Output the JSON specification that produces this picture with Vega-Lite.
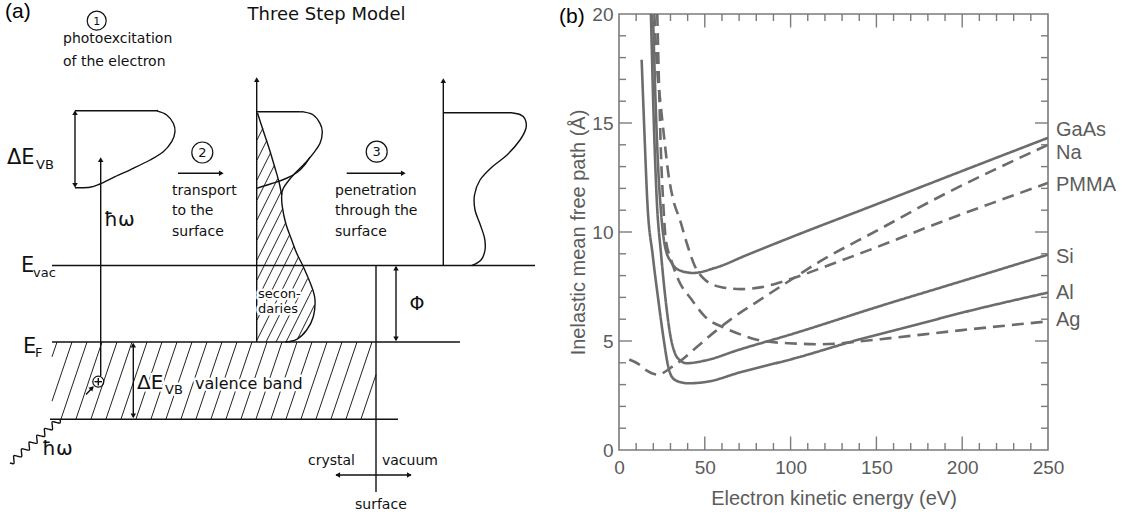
{
"$schema": "https://vega.github.io/schema/vega-lite/v6.json",
"padding": 0,
"background": "white",
"bounds": "flush",
"spacing": 159,
"config": {"font": "DejaVu Sans"},
"datasets": {
"aframe": [{"x": 0, "y": 0, "x2": 0, "y2": 518}],
"alines": [
{"id":"evac","o":0,"x":52,"y":265.5},{"id":"evac","o":1,"x":535,"y":265.5},
{"id":"ef","o":0,"x":52,"y":342},{"id":"ef","o":1,"x":460,"y":342},
{"id":"vbb","o":0,"x":50,"y":419.3},{"id":"vbb","o":1,"x":398,"y":419.3},
{"id":"surf","o":0,"x":376,"y":265.5},{"id":"surf","o":1,"x":376,"y":492},
{"id":"hw","o":0,"x":100.7,"y":160},{"id":"hw","o":1,"x":100.7,"y":376},
{"id":"d1","o":0,"x":75,"y":110.7},{"id":"d1","o":1,"x":150,"y":110.7},{"id":"d1","o":2,"x":156.7,"y":110.9},{"id":"d1","o":3,"x":166.7,"y":115},{"id":"d1","o":4,"x":173.3,"y":123.3},{"id":"d1","o":5,"x":175,"y":131.7},{"id":"d1","o":6,"x":171.7,"y":141.7},{"id":"d1","o":7,"x":163.3,"y":151.7},{"id":"d1","o":8,"x":150,"y":160},{"id":"d1","o":9,"x":133.3,"y":168.3},{"id":"d1","o":10,"x":115,"y":176.7},{"id":"d1","o":11,"x":100,"y":184},{"id":"d1","o":12,"x":90,"y":187.3},{"id":"d1","o":13,"x":75,"y":187.7},
{"id":"d1a","o":0,"x":75,"y":113},{"id":"d1a","o":1,"x":75,"y":185},
{"id":"d2a","o":0,"x":256.7,"y":80},{"id":"d2a","o":1,"x":256.7,"y":342},
{"id":"d2m","o":0,"x":256.7,"y":111.7},{"id":"d2m","o":1,"x":298,"y":111.7},{"id":"d2m","o":2,"x":303.3,"y":111.9},{"id":"d2m","o":3,"x":313.3,"y":115},{"id":"d2m","o":4,"x":320,"y":123.3},{"id":"d2m","o":5,"x":322.3,"y":131.7},{"id":"d2m","o":6,"x":320,"y":143.3},{"id":"d2m","o":7,"x":313.3,"y":153.3},{"id":"d2m","o":8,"x":305,"y":163.3},{"id":"d2m","o":9,"x":295,"y":173.3},{"id":"d2m","o":10,"x":287.7,"y":181.7},{"id":"d2m","o":11,"x":283.3,"y":188.3},{"id":"d2m","o":12,"x":281.7,"y":195},{"id":"d2m","o":13,"x":282.3,"y":206.7},{"id":"d2m","o":14,"x":285.7,"y":223.3},{"id":"d2m","o":15,"x":291.7,"y":240},{"id":"d2m","o":16,"x":296.7,"y":253.3},{"id":"d2m","o":17,"x":303.3,"y":266.7},{"id":"d2m","o":18,"x":311.7,"y":286.7},{"id":"d2m","o":19,"x":315,"y":300},{"id":"d2m","o":20,"x":313.3,"y":316.7},{"id":"d2m","o":21,"x":306.7,"y":330},{"id":"d2m","o":22,"x":296.7,"y":339.3},{"id":"d2m","o":23,"x":285,"y":342},
{"id":"d2i","o":0,"x":256.7,"y":188.3},{"id":"d2i","o":1,"x":271.7,"y":183.5},{"id":"d2i","o":2,"x":286,"y":178.5},{"id":"d2i","o":3,"x":297,"y":172.5},{"id":"d2i","o":4,"x":305,"y":164.5},{"id":"d2i","o":5,"x":310,"y":157},
{"id":"d2b","o":0,"x":257.5,"y":113},{"id":"d2b","o":1,"x":263,"y":130},{"id":"d2b","o":2,"x":269,"y":148},{"id":"d2b","o":3,"x":275,"y":168},{"id":"d2b","o":4,"x":279,"y":182},{"id":"d2b","o":5,"x":281.7,"y":195},
{"id":"d3a","o":0,"x":443.3,"y":81},{"id":"d3a","o":1,"x":443.3,"y":265.5},
{"id":"d3","o":0,"x":443.3,"y":112.7},{"id":"d3","o":1,"x":505,"y":112.7},{"id":"d3","o":2,"x":512,"y":112.9},{"id":"d3","o":3,"x":520,"y":114.5},{"id":"d3","o":4,"x":525,"y":119},{"id":"d3","o":5,"x":526,"y":128},{"id":"d3","o":6,"x":520,"y":140},{"id":"d3","o":7,"x":507,"y":155},{"id":"d3","o":8,"x":492,"y":167},{"id":"d3","o":9,"x":480,"y":180},{"id":"d3","o":10,"x":474.5,"y":195},{"id":"d3","o":11,"x":475,"y":210},{"id":"d3","o":12,"x":480,"y":224},{"id":"d3","o":13,"x":484.5,"y":238},{"id":"d3","o":14,"x":485,"y":250},{"id":"d3","o":15,"x":481,"y":260},{"id":"d3","o":16,"x":472,"y":265.5},
{"id":"ar2","o":0,"x":178,"y":173.3},{"id":"ar2","o":1,"x":222,"y":173.3},
{"id":"ar3","o":0,"x":346.7,"y":173.3},{"id":"ar3","o":1,"x":404,"y":173.3},
{"id":"phi","o":0,"x":396,"y":267},{"id":"phi","o":1,"x":396,"y":340},
{"id":"devb","o":0,"x":133.3,"y":344},{"id":"devb","o":1,"x":133.3,"y":417},
{"id":"cv","o":0,"x":336,"y":475},{"id":"cv","o":1,"x":411,"y":475},
{"id":"ha","o":0,"x":86,"y":394.5},{"id":"ha","o":1,"x":93,"y":387},
{"id":"ph","o":0,"x":94.5,"y":381.7},{"id":"ph","o":1,"x":102,"y":381.7},
{"id":"pv","o":0,"x":98.3,"y":378},{"id":"pv","o":1,"x":98.3,"y":385.5},
{"id":"wave","o":0,"x":10,"y":463},{"id":"wave","o":1,"x":13.9,"y":463.56},{"id":"wave","o":2,"x":13.85,"y":459.62},{"id":"wave","o":3,"x":13.79,"y":455.67},{"id":"wave","o":4,"x":17.69,"y":456.23},{"id":"wave","o":5,"x":21.6,"y":456.79},{"id":"wave","o":6,"x":21.54,"y":452.85},{"id":"wave","o":7,"x":21.48,"y":448.91},{"id":"wave","o":8,"x":25.38,"y":449.46},{"id":"wave","o":9,"x":29.29,"y":450.02},{"id":"wave","o":10,"x":29.23,"y":446.08},{"id":"wave","o":11,"x":29.17,"y":442.14},{"id":"wave","o":12,"x":33.08,"y":442.7},{"id":"wave","o":13,"x":36.98,"y":443.25},{"id":"wave","o":14,"x":36.92,"y":439.31},{"id":"wave","o":15,"x":36.87,"y":435.37},{"id":"wave","o":16,"x":40.77,"y":435.93},{"id":"wave","o":17,"x":44.67,"y":436.48},{"id":"wave","o":18,"x":44.62,"y":432.54},{"id":"wave","o":19,"x":44.56,"y":428.6},{"id":"wave","o":20,"x":48.46,"y":429.16},{"id":"wave","o":21,"x":52.36,"y":429.72},{"id":"wave","o":22,"x":52.31,"y":425.77},{"id":"wave","o":23,"x":52.25,"y":421.83},{"id":"wave","o":24,"x":56.15,"y":422.39},{"id":"wave","o":25,"x":60.06,"y":422.95},{"id":"wave","o":26,"x":60,"y":419}
],
"hatch": [
{"x":52,"y":356.8,"x2":57,"y2":342},{"x":52,"y":401.2,"x2":72,"y2":342},{"x":61,"y":419,"x2":87,"y2":342},{"x":76,"y":419,"x2":102,"y2":342},{"x":91,"y":419,"x2":117,"y2":342},{"x":106,"y":419,"x2":132,"y2":342},{"x":121,"y":419,"x2":147,"y2":342},{"x":136,"y":419,"x2":162,"y2":342},{"x":151,"y":419,"x2":177,"y2":342},{"x":166,"y":419,"x2":192,"y2":342},{"x":181,"y":419,"x2":207,"y2":342},{"x":196,"y":419,"x2":222,"y2":342},{"x":211,"y":419,"x2":237,"y2":342},{"x":226,"y":419,"x2":252,"y2":342},{"x":241,"y":419,"x2":267,"y2":342},{"x":256,"y":419,"x2":282,"y2":342},{"x":271,"y":419,"x2":297,"y2":342},{"x":286,"y":419,"x2":312,"y2":342},{"x":301,"y":419,"x2":327,"y2":342},{"x":316,"y":419,"x2":342,"y2":342},{"x":331,"y":419,"x2":357,"y2":342},{"x":346,"y":419,"x2":372,"y2":342},{"x":361,"y":419,"x2":376,"y2":374.6},
{"x":257,"y":140,"x2":262.9,"y2":128.2},{"x":257,"y":160,"x2":266.9,"y2":140.3},{"x":257,"y":180,"x2":270.7,"y2":152.6},{"x":257,"y":200,"x2":274.2,"y2":165.6},{"x":257,"y":220,"x2":277.7,"y2":178.6},{"x":257,"y":240,"x2":281.2,"y2":191.6},{"x":257,"y":260,"x2":282.5,"y2":209},{"x":257,"y":280,"x2":285.8,"y2":222.5},{"x":257,"y":300,"x2":289.6,"y2":234.8},{"x":257,"y":320,"x2":294,"y2":246},{"x":257,"y":340,"x2":298.5,"y2":257},{"x":266,"y":342,"x2":303.3,"y2":267.5},{"x":276,"y":342,"x2":307.7,"y2":278.5},{"x":286,"y":342,"x2":312,"y2":290},{"x":298,"y":338,"x2":314.5,"y2":305}
],
"arrows": [
{"x":100.7,"y":160.5,"a":0},{"x":75,"y":113.5,"a":0},{"x":75,"y":184.5,"a":180},{"x":256.7,"y":80.5,"a":0},{"x":443.3,"y":81.5,"a":0},{"x":220.5,"y":173.3,"a":90},{"x":402.5,"y":173.3,"a":90},{"x":396,"y":269,"a":0},{"x":396,"y":338,"a":180},{"x":133.3,"y":346,"a":0},{"x":133.3,"y":415,"a":180},{"x":338.5,"y":475,"a":270},{"x":408.5,"y":475,"a":90},{"x":91.5,"y":388.5,"a":45}
],
"circles": [
{"x":96.7,"y":20.7,"s":361},{"x":202.3,"y":152.5,"s":441},{"x":376.7,"y":151.7,"s":441},{"x":98.3,"y":381.7,"s":121}
],
"halotext": [
{"t":"secon-","x":258,"y":298,"s":13},{"t":"daries","x":258,"y":313,"s":13},{"t":"ΔE","x":137,"y":389,"s":20},{"t":"VB","x":165,"y":394,"s":13},{"t":"valence band","x":195,"y":389,"s":16}
],
"lefttext": [
{"t":"photoexcitation","x":63,"y":43,"s":14},{"t":"of the electron","x":63,"y":66,"s":14},
{"t":"ΔE","x":7,"y":164,"s":21},{"t":"VB","x":36,"y":169,"s":13},
{"t":"ħω","x":104,"y":226,"s":20},
{"t":"transport","x":172,"y":195,"s":14},{"t":"to the","x":172,"y":215,"s":14},{"t":"surface","x":172,"y":236,"s":14},
{"t":"penetration","x":335,"y":195,"s":14},{"t":"through the","x":335,"y":215,"s":14},{"t":"surface","x":335,"y":236,"s":14},
{"t":"E","x":21,"y":272,"s":21},{"t":"vac","x":33,"y":277,"s":13},
{"t":"E","x":23,"y":353,"s":21},{"t":"F","x":35,"y":357,"s":13},
{"t":"ħω","x":42,"y":455,"s":20},
{"t":"crystal","x":308,"y":465,"s":14},{"t":"vacuum","x":382,"y":465,"s":14},{"t":"surface","x":355,"y":509,"s":14}
],
"centertext": [
{"t":"Three Step Model","x":326.5,"y":20,"s":18},{"t":"1","x":96.7,"y":24.6,"s":11},{"t":"2","x":202.3,"y":157.2,"s":13},{"t":"3","x":376.7,"y":156.4,"s":13},{"t":"Φ","x":417,"y":310,"s":19}
],
"atitle": [{"t":"(a)","x":5,"y":18,"s":21}],
"curves": [
{"m":"Al","st":"solid","x":13.2,"y":17.9},{"m":"Al","st":"solid","x":14.8,"y":14.6},{"m":"Al","st":"solid","x":16.5,"y":11.4},{"m":"Al","st":"solid","x":19.7,"y":8.9},{"m":"Al","st":"solid","x":22.9,"y":6.89},{"m":"Al","st":"solid","x":26,"y":5.1},{"m":"Al","st":"solid","x":28.5,"y":3.9},{"m":"Al","st":"solid","x":30.7,"y":3.37},{"m":"Al","st":"solid","x":34.6,"y":3.14},{"m":"Al","st":"solid","x":40.4,"y":3.06},{"m":"Al","st":"solid","x":52,"y":3.14},{"m":"Al","st":"solid","x":70,"y":3.55},{"m":"Al","st":"solid","x":102.6,"y":4.21},{"m":"Al","st":"solid","x":140.4,"y":5.08},{"m":"Al","st":"solid","x":170,"y":5.68},{"m":"Al","st":"solid","x":200,"y":6.3},{"m":"Al","st":"solid","x":250,"y":7.22},
{"m":"Si","st":"solid","x":18.6,"y":20},{"m":"Si","st":"solid","x":20.3,"y":15},{"m":"Si","st":"solid","x":22,"y":11.48},{"m":"Si","st":"solid","x":24.5,"y":9.0},{"m":"Si","st":"solid","x":27,"y":7.0},{"m":"Si","st":"solid","x":29.7,"y":5.36},{"m":"Si","st":"solid","x":32.6,"y":4.44},{"m":"Si","st":"solid","x":35,"y":4.15},{"m":"Si","st":"solid","x":39.5,"y":3.98},{"m":"Si","st":"solid","x":50,"y":4.1},{"m":"Si","st":"solid","x":70,"y":4.6},{"m":"Si","st":"solid","x":102.6,"y":5.36},{"m":"Si","st":"solid","x":150,"y":6.55},{"m":"Si","st":"solid","x":200,"y":7.75},{"m":"Si","st":"solid","x":250,"y":8.96},
{"m":"GaAs","st":"solid","x":19.8,"y":20},{"m":"GaAs","st":"solid","x":21.3,"y":16},{"m":"GaAs","st":"solid","x":22.8,"y":13},{"m":"GaAs","st":"solid","x":24.5,"y":10.9},{"m":"GaAs","st":"solid","x":26.8,"y":9.34},{"m":"GaAs","st":"solid","x":30.7,"y":8.58},{"m":"GaAs","st":"solid","x":35,"y":8.25},{"m":"GaAs","st":"solid","x":43.3,"y":8.12},{"m":"GaAs","st":"solid","x":55.9,"y":8.35},{"m":"GaAs","st":"solid","x":75,"y":8.96},{"m":"GaAs","st":"solid","x":100,"y":9.75},{"m":"GaAs","st":"solid","x":150,"y":11.27},{"m":"GaAs","st":"solid","x":200,"y":12.8},{"m":"GaAs","st":"solid","x":250,"y":14.32},
{"m":"Na","st":"dashed","x":6,"y":4.15},{"m":"Na","st":"dashed","x":11.2,"y":3.95},{"m":"Na","st":"dashed","x":16,"y":3.65},{"m":"Na","st":"dashed","x":19.1,"y":3.52},{"m":"Na","st":"dashed","x":22.9,"y":3.45},{"m":"Na","st":"dashed","x":26,"y":3.55},{"m":"Na","st":"dashed","x":29.7,"y":3.75},{"m":"Na","st":"dashed","x":36.5,"y":4.13},{"m":"Na","st":"dashed","x":45,"y":4.7},{"m":"Na","st":"dashed","x":55.9,"y":5.43},{"m":"Na","st":"dashed","x":67,"y":6.1},{"m":"Na","st":"dashed","x":79.3,"y":6.74},{"m":"Na","st":"dashed","x":98.7,"y":7.73},{"m":"Na","st":"dashed","x":117.1,"y":8.65},{"m":"Na","st":"dashed","x":150,"y":10.05},{"m":"Na","st":"dashed","x":191,"y":11.79},{"m":"Na","st":"dashed","x":220,"y":12.9},{"m":"Na","st":"dashed","x":250,"y":14.0},
{"m":"PMMA","st":"dashed","x":20.6,"y":20},{"m":"PMMA","st":"dashed","x":22,"y":17.76},{"m":"PMMA","st":"dashed","x":24.2,"y":15.9},{"m":"PMMA","st":"dashed","x":26.5,"y":14.2},{"m":"PMMA","st":"dashed","x":28.7,"y":12.7},{"m":"PMMA","st":"dashed","x":31.6,"y":11.48},{"m":"PMMA","st":"dashed","x":35.5,"y":10.56},{"m":"PMMA","st":"dashed","x":39.5,"y":9.49},{"m":"PMMA","st":"dashed","x":44.3,"y":8.42},{"m":"PMMA","st":"dashed","x":50.1,"y":7.81},{"m":"PMMA","st":"dashed","x":59.8,"y":7.47},{"m":"PMMA","st":"dashed","x":71.5,"y":7.38},{"m":"PMMA","st":"dashed","x":83.2,"y":7.47},{"m":"PMMA","st":"dashed","x":98.7,"y":7.81},{"m":"PMMA","st":"dashed","x":123,"y":8.5},{"m":"PMMA","st":"dashed","x":150,"y":9.3},{"m":"PMMA","st":"dashed","x":191,"y":10.56},{"m":"PMMA","st":"dashed","x":220,"y":11.4},{"m":"PMMA","st":"dashed","x":250,"y":12.25},
{"m":"Ag","st":"dashed","x":22.3,"y":20},{"m":"Ag","st":"dashed","x":23.4,"y":16.5},{"m":"Ag","st":"dashed","x":24.5,"y":13.5},{"m":"Ag","st":"dashed","x":25.8,"y":11.3},{"m":"Ag","st":"dashed","x":27.2,"y":9.7},{"m":"Ag","st":"dashed","x":30.5,"y":8.7},{"m":"Ag","st":"dashed","x":34.6,"y":7.81},{"m":"Ag","st":"dashed","x":42.4,"y":6.89},{"m":"Ag","st":"dashed","x":50.1,"y":6.12},{"m":"Ag","st":"dashed","x":61.8,"y":5.59},{"m":"Ag","st":"dashed","x":71.5,"y":5.28},{"m":"Ag","st":"dashed","x":85.1,"y":4.98},{"m":"Ag","st":"dashed","x":98.7,"y":4.9},{"m":"Ag","st":"dashed","x":118.8,"y":4.85},{"m":"Ag","st":"dashed","x":140,"y":4.98},{"m":"Ag","st":"dashed","x":157.9,"y":5.13},{"m":"Ag","st":"dashed","x":200,"y":5.5},{"m":"Ag","st":"dashed","x":250,"y":5.9}
],
"labels": [
{"m":"GaAs","ly":14.68},{"m":"Na","ly":13.62},{"m":"PMMA","ly":12.15},{"m":"Si","ly":8.87},{"m":"Al","ly":7.2},{"m":"Ag","ly":5.97}
],
"xt": [
{"v":10,"len":14},{"v":20,"len":14},{"v":30,"len":14},{"v":40,"len":14},{"v":50,"len":27},{"v":60,"len":14},{"v":70,"len":14},{"v":80,"len":14},{"v":90,"len":14},{"v":100,"len":27},{"v":110,"len":14},{"v":120,"len":14},{"v":130,"len":14},{"v":140,"len":14},{"v":150,"len":27},{"v":160,"len":14},{"v":170,"len":14},{"v":180,"len":14},{"v":190,"len":14},{"v":200,"len":27},{"v":210,"len":14},{"v":220,"len":14},{"v":230,"len":14},{"v":240,"len":14}
],
"yt": [
{"v":1,"len":14},{"v":2,"len":14},{"v":3,"len":14},{"v":4,"len":14},{"v":5,"len":26},{"v":6,"len":14},{"v":7,"len":14},{"v":8,"len":14},{"v":9,"len":14},{"v":10,"len":26},{"v":11,"len":14},{"v":12,"len":14},{"v":13,"len":14},{"v":14,"len":14},{"v":15,"len":26},{"v":16,"len":14},{"v":17,"len":14},{"v":18,"len":14},{"v":19,"len":14}
],
"btitle": [{"t":"(b)"}]
},
"hconcat": [
{
"width": 460,
"height": 436,
"view": {"stroke": null},
"encoding": {
"x": {"field": "x", "type": "quantitative", "scale": {"domain": [0, 460], "nice": false, "zero": false}, "axis": null},
"y": {"field": "y", "type": "quantitative", "scale": {"domain": [14, 450], "nice": false, "zero": false, "reverse": true}, "axis": null}
},
"layer": [
{"data": {"name": "aframe"}, "mark": {"type": "rule", "strokeOpacity": 0, "strokeWidth": 0.01}, "encoding": {"x2": {"field": "x2"}, "y2": {"field": "y2"}}},
{"data": {"name": "hatch"}, "mark": {"type": "rule", "color": "#222", "strokeWidth": 1}, "encoding": {"x2": {"field": "x2"}, "y2": {"field": "y2"}}},
{"data": {"name": "alines"}, "mark": {"type": "line", "interpolate": "cardinal", "color": "#111", "strokeWidth": 1.4}, "encoding": {"detail": {"field": "id"}, "order": {"field": "o", "type": "quantitative"}}},
{"data": {"name": "halotext"}, "mark": {"type": "text", "align": "left", "baseline": "alphabetic", "font": "DejaVu Sans", "fill": "white", "stroke": "white", "strokeWidth": 5, "strokeJoin": "round"}, "encoding": {"text": {"field": "t"}, "size": {"field": "s", "type": "quantitative", "scale": null}}},
{"data": {"name": "halotext"}, "mark": {"type": "text", "align": "left", "baseline": "alphabetic", "font": "DejaVu Sans", "color": "#111"}, "encoding": {"text": {"field": "t"}, "size": {"field": "s", "type": "quantitative", "scale": null}}},
{"data": {"name": "lefttext"}, "mark": {"type": "text", "align": "left", "baseline": "alphabetic", "font": "DejaVu Sans", "color": "#111"}, "encoding": {"text": {"field": "t"}, "size": {"field": "s", "type": "quantitative", "scale": null}}},
{"data": {"name": "centertext"}, "mark": {"type": "text", "align": "center", "baseline": "alphabetic", "font": "DejaVu Sans", "color": "#111"}, "encoding": {"text": {"field": "t"}, "size": {"field": "s", "type": "quantitative", "scale": null}}},
{"data": {"name": "atitle"}, "mark": {"type": "text", "align": "left", "baseline": "alphabetic", "font": "Liberation Sans", "color": "#000"}, "encoding": {"text": {"field": "t"}, "size": {"field": "s", "type": "quantitative", "scale": null}}},
{"data": {"name": "circles"}, "mark": {"type": "point", "shape": "circle", "filled": false, "color": "#111", "strokeWidth": 1.2, "opacity": 1}, "encoding": {"size": {"field": "s", "type": "quantitative", "scale": null}}},
{"data": {"name": "arrows"}, "mark": {"type": "point", "shape": "triangle", "filled": true, "color": "#111", "size": 30, "opacity": 1}, "encoding": {"angle": {"field": "a", "type": "quantitative", "scale": null}}}
]
},
{
"width": 429,
"height": 436,
"view": {"stroke": "#7b7b7b", "strokeWidth": 1.6},
"layer": [
{"data": {"name": "curves"}, "mark": {"type": "line", "clip": true, "interpolate": "monotone", "strokeWidth": 2.6, "color": "#6c6c6c"},
 "encoding": {
  "x": {"field": "x", "type": "quantitative", "scale": {"domain": [0, 250], "nice": false, "zero": false},
   "axis": {"values": [0, 50, 100, 150, 200, 250], "ticks": false, "tickSize": 0, "domain": false, "grid": false, "labelFont": "Liberation Sans", "labelFontSize": 19, "labelColor": "#5c5c5c", "labelPadding": 8, "labelFlush": false, "labelOverlap": false, "title": "Electron kinetic energy (eV)", "titleFont": "Liberation Sans", "titleFontSize": 20, "titleFontWeight": "normal", "titleColor": "#5c5c5c", "titlePadding": 11}},
  "y": {"field": "y", "type": "quantitative", "scale": {"domain": [0, 20], "nice": false, "zero": false},
   "axis": {"values": [0, 5, 10, 15, 20], "ticks": false, "tickSize": 0, "domain": false, "grid": false, "labelFont": "Liberation Sans", "labelFontSize": 19, "labelColor": "#5c5c5c", "labelPadding": 6, "labelFlush": false, "labelOverlap": false, "title": "Inelastic mean free path (Å)", "titleFont": "Liberation Sans", "titleFontSize": 20, "titleFontWeight": "normal", "titleColor": "#5c5c5c", "titlePadding": 3}},
  "detail": {"field": "m"},
  "strokeDash": {"field": "st", "type": "nominal", "scale": {"domain": ["solid", "dashed"], "range": [[1, 0], [12, 7]]}, "legend": null}
 }},
{"data": {"name": "xt"}, "mark": {"type": "tick", "orient": "vertical", "clip": true, "color": "#7b7b7b", "thickness": 1.4, "opacity": 1},
 "encoding": {"x": {"field": "v", "type": "quantitative"}, "y": {"datum": 0}, "size": {"field": "len", "type": "quantitative", "scale": null}}},
{"data": {"name": "xt"}, "mark": {"type": "tick", "orient": "vertical", "clip": true, "color": "#7b7b7b", "thickness": 1.4, "opacity": 1},
 "encoding": {"x": {"field": "v", "type": "quantitative"}, "y": {"datum": 20}, "size": {"field": "len", "type": "quantitative", "scale": null}}},
{"data": {"name": "yt"}, "mark": {"type": "tick", "orient": "horizontal", "clip": true, "color": "#7b7b7b", "thickness": 1.4, "opacity": 1},
 "encoding": {"y": {"field": "v", "type": "quantitative"}, "x": {"datum": 0}, "size": {"field": "len", "type": "quantitative", "scale": null}}},
{"data": {"name": "yt"}, "mark": {"type": "tick", "orient": "horizontal", "clip": true, "color": "#7b7b7b", "thickness": 1.4, "opacity": 1},
 "encoding": {"y": {"field": "v", "type": "quantitative"}, "x": {"datum": 250}, "size": {"field": "len", "type": "quantitative", "scale": null}}},
{"data": {"name": "labels"}, "mark": {"type": "text", "align": "left", "baseline": "middle", "dx": 8, "font": "Liberation Sans", "fontSize": 20, "color": "#5c5c5c"},
 "encoding": {"x": {"datum": 250}, "y": {"field": "ly", "type": "quantitative"}, "text": {"field": "m"}}},
{"data": {"name": "btitle"}, "mark": {"type": "text", "align": "center", "baseline": "middle", "font": "Liberation Sans", "fontSize": 21, "color": "#000"},
 "encoding": {"x": {"datum": -27.5}, "y": {"datum": 19.85}, "text": {"field": "t"}}}
]
}
]
}
